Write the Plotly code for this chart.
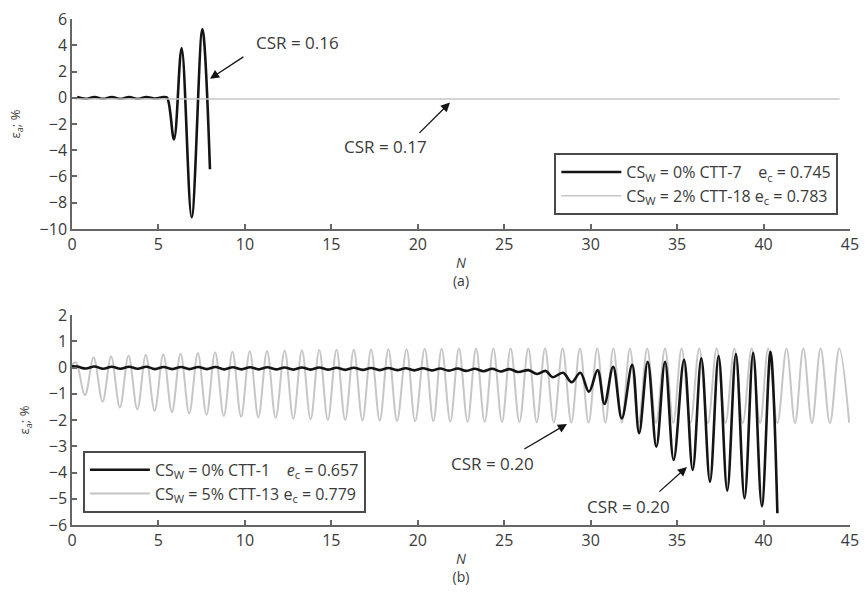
import plotly.graph_objects as go
from plotly.subplots import make_subplots

# ---------------- data ----------------
# (a) top panel
top_black_N = [0.3, 0.8, 1.3, 1.8, 2.3, 2.8, 3.3, 3.8, 4.3, 4.8, 5.3, 5.5,
               5.9, 6.34, 6.92, 7.54, 7.98]
top_black_v = [0.05, -0.08, 0.06, -0.08, 0.06, -0.08, 0.06, -0.08, 0.06, -0.06, 0.06, 0.0,
               -3.17, 3.78, -9.11, 5.22, -5.45]
top_gray_N = [0.2, 15.0, 30.0, 44.4]
top_gray_v = [-0.1, -0.1, -0.1, -0.1]

# (b) bottom panel
bot_gray_N = [0.0, 0.22, 0.75, 1.25, 1.77, 2.26, 2.77, 3.27, 3.78, 4.27, 4.78, 5.28, 5.78,
              6.28, 6.78, 7.28, 7.78, 8.28, 8.78, 9.28, 9.78, 10.28, 10.78, 11.28, 11.78,
              12.3, 12.8, 13.3, 13.8, 14.3, 14.8, 15.3, 15.8, 16.3, 16.8, 17.3, 17.8,
              18.3, 18.8, 19.35, 19.85, 20.4, 20.9, 21.38, 21.88, 22.38, 22.88, 23.37,
              23.87, 24.37, 24.87, 25.37, 25.88, 26.39, 26.88, 27.36, 27.87, 28.38, 28.88,
              29.38, 29.88, 30.38, 30.85, 31.31, 31.8, 32.27, 32.77, 33.27, 33.78, 34.3,
              34.78, 35.26, 35.77, 36.28, 36.78, 37.29, 37.8, 38.31, 38.8, 39.31, 39.8,
              40.27, 40.8, 41.33, 41.82, 42.3, 42.8, 43.3, 43.84, 44.38, 44.95]
bot_gray_v = [0.1, 0.2, -1.05, 0.38, -1.3, 0.42, -1.52, 0.45, -1.6, 0.48, -1.65, 0.5, -1.7,
              0.52, -1.75, 0.55, -1.8, 0.58, -1.85, 0.6, -1.88, 0.62, -1.9, 0.63, -1.92,
              0.65, -1.95, 0.66, -1.97, 0.67, -2.0, 0.68, -2.0, 0.68, -2.02, 0.69, -2.03,
              0.7, -2.04, 0.7, -2.05, 0.71, -2.05, 0.71, -2.06, 0.72, -2.07, 0.72,
              -2.07, 0.72, -2.08, 0.72, -2.08, 0.72, -2.09, 0.72, -2.1, 0.72, -2.1,
              0.72, -2.1, 0.72, -2.1, 0.72, -2.1, 0.72, -2.1, 0.72, -2.11, 0.72,
              -2.11, 0.72, -2.11, 0.72, -2.12, 0.72, -2.12, 0.72, -2.12, 0.72, -2.12,
              0.72, -2.12, 0.72, -2.12, 0.72, -2.12, 0.72, -2.12, 0.72, -2.1]

bot_black_N = [0.0, 0.3, 0.8, 1.3, 1.8, 2.3, 2.8, 3.3, 3.8, 4.3, 4.8, 5.3, 5.8, 6.3, 6.8,
               7.3, 7.8, 8.3, 8.8, 9.3, 9.8, 10.3, 10.8, 11.3, 11.8, 12.3, 12.8, 13.3,
               13.8, 14.3, 14.8, 15.3, 15.8, 16.3, 16.8, 17.3, 17.8, 18.3, 18.8, 19.3,
               19.8, 20.3, 20.8, 21.3, 21.8, 22.3, 22.8, 23.3, 23.8, 24.3, 24.8, 25.3,
               25.8, 26.4, 26.9, 27.4, 27.8, 28.4, 28.9, 29.4, 29.9, 30.4, 30.8, 31.3,
               31.8, 32.4, 32.8, 33.3, 33.8, 34.3, 34.8, 35.4, 35.9, 36.4, 36.9, 37.4,
               37.9, 38.4, 38.9, 39.4, 39.9, 40.4, 40.8]
bot_black_v = [0.05, 0.04, -0.04, 0.04, -0.05, 0.03, -0.05, 0.03, -0.05, 0.03, -0.06, 0.02,
               -0.06, 0.02, -0.06, 0.02, -0.06, 0.02, -0.07, 0.01, -0.07, 0.01, -0.07,
               0.01, -0.07, 0.0, -0.08, 0.0, -0.08, 0.0, -0.08, -0.01, -0.09, -0.01,
               -0.09, -0.02, -0.1, -0.02, -0.1, -0.03, -0.11, -0.03, -0.11, -0.04, -0.12,
               -0.04, -0.13, -0.05, -0.14, -0.05, -0.15, -0.06, -0.17, -0.1, -0.25, -0.13,
               -0.37, -0.2, -0.56, -0.2, -0.92, -0.1, -1.39, 0.03, -1.94, 0.1, -2.5, 0.22,
               -3.02, 0.22, -3.52, 0.29, -3.9, 0.35, -4.35, 0.44, -4.69, 0.51, -4.98,
               0.56, -5.28, 0.6, -5.55]

top_names = ["CS<sub>W</sub> = 0% CTT-7\u00a0\u00a0\u00a0\u00a0e<sub>c</sub> = 0.745",
             "CS<sub>W</sub> = 2% CTT-18 e<sub>c</sub> = 0.783"]
bot_names = ["CS<sub>W</sub> = 0% CTT-1\u00a0\u00a0\u00a0\u00a0<i>e</i><sub>c</sub> = 0.657",
             "CS<sub>W</sub> = 5% CTT-13 e<sub>c</sub> = 0.779"]

x_ticks = [0, 5, 10, 15, 20, 25, 30, 35, 40, 45]

BLACK = "#141414"
GRAY = "#c6c6c6"
AXC = "#666666"
TXT = "#3a3a3a"
FONT = "Open Sans"

fig = make_subplots(rows=2, cols=1, vertical_spacing=0.17)

fig.add_trace(go.Scatter(x=top_black_N, y=top_black_v, mode="lines", name=top_names[0],
                         line=dict(color=BLACK, width=2.6, shape="spline", smoothing=1.0),
                         legend="legend", legendrank=1), row=1, col=1)
fig.add_trace(go.Scatter(x=top_gray_N, y=top_gray_v, mode="lines", name=top_names[1],
                         line=dict(color=GRAY, width=1.6),
                         legend="legend", legendrank=2), row=1, col=1)
fig.add_trace(go.Scatter(x=bot_gray_N, y=bot_gray_v, mode="lines", name=bot_names[1],
                         line=dict(color=GRAY, width=2.0, shape="spline", smoothing=1.0),
                         legend="legend2", legendrank=4), row=2, col=1)
fig.add_trace(go.Scatter(x=bot_black_N, y=bot_black_v, mode="lines", name=bot_names[0],
                         line=dict(color=BLACK, width=2.6, shape="spline", smoothing=1.0),
                         legend="legend2", legendrank=3), row=2, col=1)

axis_common = dict(showline=True, linecolor=AXC, linewidth=1.5, ticks="inside",
                   ticklen=5, tickcolor=AXC, tickwidth=1.5, showgrid=False, zeroline=False,
                   tickfont=dict(family=FONT, size=16, color=TXT), mirror=False)

fig.update_xaxes(range=[0, 45], tickvals=x_ticks, **axis_common)
fig.update_yaxes(**axis_common)
fig.update_xaxes(title=dict(text="<i>N</i><br>(a)", font=dict(family=FONT, size=14, color=TXT),
                            standoff=4), row=1, col=1)
fig.update_xaxes(title=dict(text="<i>N</i><br>(b)", font=dict(family=FONT, size=14, color=TXT),
                            standoff=4), row=2, col=1)
fig.update_yaxes(range=[-10, 6], dtick=2, row=1, col=1,
                 title=dict(text="ε<sub>a</sub>; %", font=dict(family=FONT, size=13, color=TXT),
                            standoff=16))
fig.update_yaxes(range=[-6, 2], dtick=1, row=2, col=1,
                 title=dict(text="ε<sub>a</sub>; %", font=dict(family=FONT, size=13, color=TXT),
                            standoff=16))

ann = []
# (data head x, head y, tail x, tail y, xref, yref)
arrows = [(7.98, 1.45, 10.0, 3.19, "x", "y"),
          (21.86, -0.37, 20.01, -2.79, "x", "y"),
          (28.63, -2.15, 26.08, -3.14, "x2", "y2"),
          (35.57, -3.79, 33.89, -4.78, "x2", "y2")]
for hx, hy, tx, ty, xr, yr in arrows:
    ann.append(dict(x=hx, y=hy, ax=tx, ay=ty, xref=xr, yref=yr, axref=xr, ayref=yr,
                    showarrow=True, arrowhead=2, arrowsize=1.4, arrowwidth=1.3,
                    arrowcolor=BLACK, text=""))
labels = [(13.07, 4.18, "CSR = 0.16", "x", "y"),
          (18.16, -3.70, "CSR = 0.17", "x", "y"),
          (24.35, -3.64, "CSR = 0.20", "x2", "y2"),
          (32.16, -5.31, "CSR = 0.20", "x2", "y2")]
for x, y, t, xr, yr in labels:
    ann.append(dict(x=x, y=y, xref=xr, yref=yr, text=t, showarrow=False,
                    font=dict(family=FONT, size=17, color=TXT)))

leg_common = dict(bgcolor="white", bordercolor="#4a4a4a", borderwidth=2,
                  font=dict(family=FONT, size=16, color=TXT), tracegroupgap=6,
                  itemwidth=60, traceorder="normal")
fig.update_layout(
    width=865, height=594, template="none",
    paper_bgcolor="white", plot_bgcolor="white",
    margin=dict(l=72, r=15, t=19, b=69),
    annotations=ann,
    legend=dict(x=0.985, xanchor="right", y=0.735, yanchor="top", **leg_common),
    legend2=dict(x=0.014, xanchor="left", y=0.024, yanchor="bottom", **leg_common),
)

fig.write_html("out.html")
